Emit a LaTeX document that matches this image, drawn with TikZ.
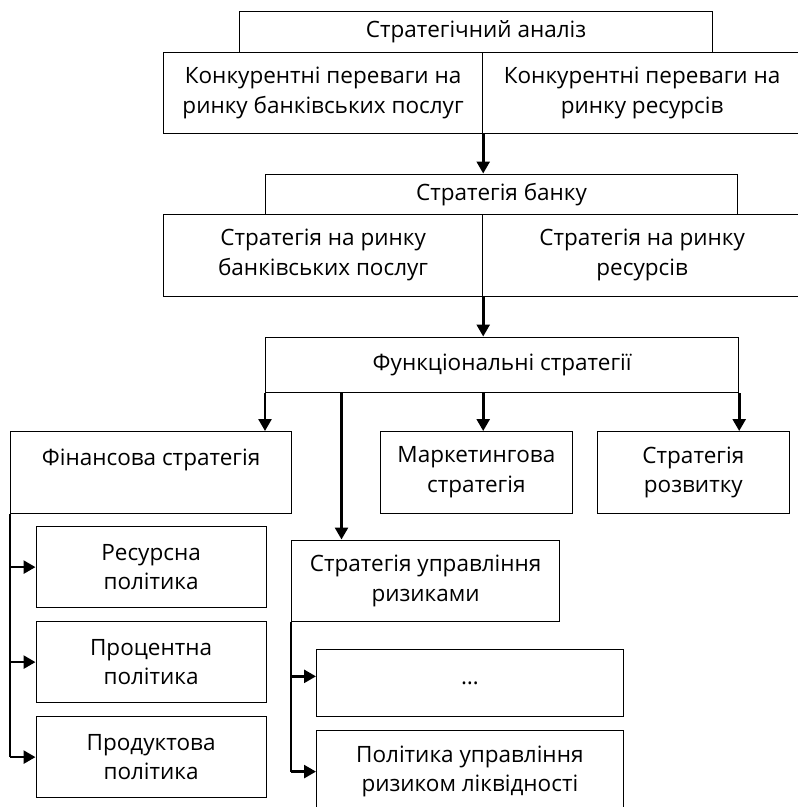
\documentclass[tikz,border=0pt]{standalone}
\usepackage{fontspec}
\setmainfont{Open Sans}
\usetikzlibrary{calc,arrows.meta}
\tikzstyle{cadre} = [rectangle, draw=black, line width=1.2pt, anchor=north west, align=center, inner sep=0pt, font=\fontsize{22.5}{29.5}\selectfont]
\tikzstyle{fleche} = [line width=2.6pt, -{Triangle[length=12pt, width=13pt]}]
\tikzstyle{trait} = [line width=1.2pt]

\begin{document}
\begin{tikzpicture}[x=1pt, y=-1pt]
        \useasboundingbox (0,0) rectangle (798,807);

        %% analysis
        \node (analiz) [cadre, minimum width=473pt, minimum height=41pt] at (239,11) {Стратегічний аналіз};
        \node (konkL) [cadre, minimum width=319pt, minimum height=81pt] at (163,52) {Конкурентні переваги на\\ринку банківських послуг};
        \node (konkR) [cadre, minimum width=319pt, minimum height=81pt] at (482,52) {Конкурентні переваги на\\ринку ресурсів};

        %% bank strategy
        \node (bank) [cadre, minimum width=472pt, minimum height=40pt] at (265,173.5) {Стратегія банку};
        \node (stratL) [cadre, minimum width=319pt, minimum height=82pt] at (163,213.5) {Стратегія на ринку\\банківських послуг};
        \node (stratR) [cadre, minimum width=319pt, minimum height=82pt] at (482,213.5) {Стратегія на ринку\\ресурсів};

        %% functional strategies
        \node (func) [cadre, minimum width=473pt, minimum height=55.5pt] at (265,336.5) {Функціональні стратегії};
        \node (fin) [cadre, minimum width=281pt, minimum height=81.5pt] at (10,431) {Фінансова стратегія\\\mbox{}};
        \node (market) [cadre, minimum width=191.5pt, minimum height=81.5pt] at (380,431) {Маркетингова\\стратегія};
        \node (rozv) [cadre, minimum width=192.5pt, minimum height=81.5pt] at (596.5,431) {Стратегія\\розвитку};

        %% policies
        \node (resurs) [cadre, minimum width=230pt, minimum height=81pt] at (35.5,526) {Ресурсна\\політика};
        \node (proc) [cadre, minimum width=230pt, minimum height=81pt] at (35.5,621) {Процентна\\політика};
        \node (prod) [cadre, minimum width=230pt, minimum height=81pt] at (35.5,716) {Продуктова\\політика};

        \node (rizik) [cadre, minimum width=268pt, minimum height=81.5pt] at (291,539.5) {Стратегія управління\\ризиками};
        \node (dots) [cadre, minimum width=306.5pt, minimum height=67.5pt] at (316,648.5) {\dots};
        \node (likv) [cadre, minimum width=306.5pt, minimum height=82pt] at (316,730) {Політика управління\\ризиком ліквідності};

        %% arrows
        \draw[fleche] (konkL.south east) -- (konkL.south east |- bank.north);
        \draw[fleche] (stratL.south east) -- (stratL.south east |- func.north);

        \coordinate (r0) at ($(func.south west) + (76.5,0)$);
        \draw[fleche] (func.south west) -- (func.south west |- fin.north);
        \draw[fleche] (r0) -- (r0 |- rizik.north);
        \draw[fleche] (stratL.south east |- func.south) -- (stratL.south east |- market.north);
        \draw[fleche] (func.south east) -- (func.south east |- rozv.north);

        \draw[trait] (fin.south west) -- (fin.south west |- prod.west);
        \draw[fleche] (fin.south west |- resurs.west) -- (resurs.west);
        \draw[fleche] (fin.south west |- proc.west) -- (proc.west);
        \draw[fleche] (fin.south west |- prod.west) -- (prod.west);

        \coordinate (d0) at ($(dots.west) + (0,-6.5)$);
        \draw[trait] (rizik.south west) -- (rizik.south west |- likv.west);
        \draw[fleche] (rizik.south west |- d0) -- (d0);
        \draw[fleche] (rizik.south west |- likv.west) -- (likv.west);

    \end{tikzpicture}
\end{document}
